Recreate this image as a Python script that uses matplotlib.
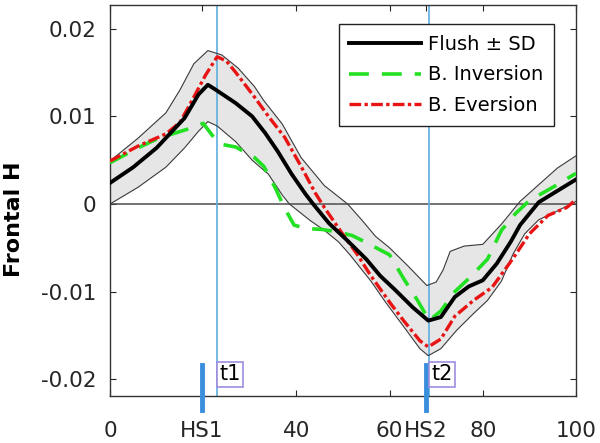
import matplotlib
matplotlib.use("Agg")
import matplotlib.pyplot as plt

# --- data (x = % of cycle) ---
mean_x = [0, 5, 10, 13, 16, 19, 21, 22.5, 27, 30.5, 33.3, 36, 39, 42, 43.6, 47, 51, 55, 58, 61,
          65, 68.3, 71, 74, 77, 80, 83, 86, 88, 92, 96, 100]
mean_y = [0.0024, 0.0042, 0.0064, 0.0081, 0.0098, 0.0125, 0.0136, 0.0131, 0.0115, 0.0100, 0.0081,
          0.0060, 0.0034, 0.0011, 0.0, -0.0022, -0.0042, -0.0063, -0.0082, -0.0097, -0.0118, -0.0133,
          -0.0129, -0.0106, -0.0094, -0.0087, -0.0068, -0.0043, -0.0024, 0.0002, 0.0015, 0.0028]

upper_x = [0, 6, 12, 15, 18, 21, 24, 27.5, 31, 33, 37, 41, 46, 51, 54, 57, 60, 64, 68, 70, 71.5,
           73, 76, 80, 84, 88, 92, 96, 100]
upper_y = [0.0049, 0.0075, 0.0104, 0.0130, 0.0160, 0.0175, 0.0170, 0.0155, 0.0134, 0.0118, 0.0091,
           0.0053, 0.0021, 0.0000, -0.0018, -0.0037, -0.0050, -0.0071, -0.0093, -0.0089, -0.0075,
           -0.0054, -0.0048, -0.0046, -0.0023, 0.0003, 0.0022, 0.0041, 0.0055]

lower_x = [0, 6, 12, 16, 19, 21, 23, 27, 30.5, 34, 37, 38.5, 43, 46, 49, 51.5, 53, 56, 59, 63.6,
           66.5, 68.3, 71, 74.4, 78, 81, 84, 86.5, 89, 92, 96, 100]
lower_y = [0.0000, 0.0019, 0.0042, 0.0064, 0.0083, 0.0094, 0.0089, 0.0071, 0.0050, 0.0034, 0.0010,
           0.0000, -0.0019, -0.0030, -0.0043, -0.0058, -0.0068, -0.0088, -0.0111, -0.0144, -0.0165,
           -0.0173, -0.0165, -0.0144, -0.0125, -0.0110, -0.0088, -0.0057, -0.0034, -0.0018, -0.0008,
           0.0003]

inv_x = [0, 6, 10, 14, 17, 20, 22, 24, 27, 31, 33, 35.5, 37.5, 39.5, 42, 45.5, 49, 52, 55, 60, 63,
         66, 68.5, 71, 74, 77, 81, 84, 87, 90, 95, 100]
inv_y = [0.0047, 0.0064, 0.0074, 0.0081, 0.0086, 0.0092, 0.0078, 0.0068, 0.0065, 0.0053, 0.0043,
         0.0018, -0.0005, -0.0024, -0.0028, -0.0029, -0.0032, -0.0036, -0.0044, -0.0058, -0.0085,
         -0.0110, -0.0133, -0.0122, -0.0100, -0.0085, -0.0063, -0.0030, -0.0011, 0.0004, 0.0019,
         0.0035]

ev_x = [0, 6, 12, 15, 17.5, 20.5, 23, 25, 27, 29, 31, 34, 37.5, 41, 44, 46, 49.5, 53, 56, 60, 63,
        66.5, 68.3, 71, 74, 78, 82, 86.5, 90, 94, 98, 100]
ev_y = [0.0049, 0.0066, 0.0080, 0.0093, 0.0117, 0.0147, 0.0168, 0.0163, 0.0150, 0.0136, 0.0122,
        0.0100, 0.0076, 0.0043, 0.0013, -0.0004, -0.0031, -0.0057, -0.0082, -0.0112, -0.0133,
        -0.0156, -0.0163, -0.0154, -0.0128, -0.0110, -0.0095, -0.0062, -0.0034, -0.0013, -0.0004,
        0.0005]

hs1, hs2 = 19.7, 67.8      # heel strike events
t1, t2 = 22.9, 68.5        # time markers

xticks = [0, hs1, 40, 60, hs2, 80, 100]
xtick_labels = ['0', 'HS1', '40', '60', 'HS2', '80', '100']
yticks = [-0.02, -0.01, 0, 0.01, 0.02]
ytick_labels = ['-0.02', '-0.01', '0', '0.01', '0.02']

# --- figure ---
plt.rcParams['font.family'] = 'DejaVu Sans'
fig = plt.figure(figsize=(6, 4.43), dpi=100)
ax = fig.add_axes([0.1833, 0.1061, 0.7767, 0.8826])

# SD band as one polygon: upper edge forward, lower edge back
ax.fill(upper_x + lower_x[::-1], upper_y + lower_y[::-1], color='#e6e6e6', lw=0, zorder=1)

ax.axhline(0, color='#4d4d4d', lw=1.1, zorder=2)
ax.axvline(t1, color='#5aaee0', lw=1.2, zorder=2)
ax.axvline(t2, color='#5aaee0', lw=1.2, zorder=2)

ax.plot(upper_x, upper_y, color='#3a3a3a', lw=0.8, zorder=3)
ax.plot(lower_x, lower_y, color='#3a3a3a', lw=0.8, zorder=3)

ax.plot(mean_x, mean_y, color='black', lw=2.8, label='Flush \u00b1 SD', zorder=5)
ax.plot(inv_x, inv_y, color='#22e022', lw=2.6, dashes=(5.5, 3.6), label='B. Inversion', zorder=4)
ax.plot(ev_x, ev_y, color='#e81414', lw=2.4, dashes=(3.5, 1, 1, 1), label='B. Eversion', zorder=4)

# heel strike markers below the axis
for h in (hs1, hs2):
    ax.plot([h, h], [-0.0184, -0.0235], color='#3a8fdc', lw=3.5, clip_on=False, zorder=6)

box = dict(boxstyle='square,pad=0.12', fc='white', ec='#9f8ce0', lw=1.2)
ax.text(t1 + 0.5, -0.0194, 't1', fontsize=15, ha='left', va='center', bbox=box, zorder=7)
ax.text(t2 + 0.5, -0.0194, 't2', fontsize=15, ha='left', va='center', bbox=box, zorder=7)

ax.set_xlim(0, 100)
ax.set_ylim(-0.0219, 0.0227)
ax.set_xticks(xticks)
ax.set_xticklabels(xtick_labels)
ax.set_yticks(yticks)
ax.set_yticklabels(ytick_labels)
ax.tick_params(direction='in', top=True, right=True, length=4, width=0.8,
               labelsize=15.5, colors='#262626')
ax.tick_params(axis='x', pad=18)
ax.tick_params(axis='y', pad=10)
for s in ax.spines.values():
    s.set_color('#333333')
    s.set_linewidth(1.0)

ax.set_ylabel('Frontal H', fontsize=16, fontweight='bold')
ax.yaxis.set_label_coords(-0.185, 0.453)

leg = ax.legend(loc='upper right', bbox_to_anchor=(0.9528, 0.9514), borderaxespad=0,
                fontsize=14, handlelength=3.7, handletextpad=0.35, labelspacing=0.6,
                borderpad=0.55, fancybox=False, framealpha=1)
leg.get_frame().set_edgecolor('#222222')
leg.get_frame().set_linewidth(1.0)

fig.savefig('out.png', dpi=100)
